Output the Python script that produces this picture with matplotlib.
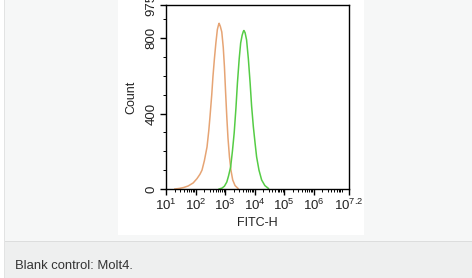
import numpy as np
import matplotlib.pyplot as plt
from matplotlib.patches import Rectangle
from matplotlib.ticker import LogLocator, FixedLocator, NullFormatter

plt.rcParams["font.family"] = ["Liberation Sans", "DejaVu Sans"]
plt.rcParams["mathtext.fontset"] = "custom"
plt.rcParams["mathtext.rm"] = "Liberation Sans"
plt.rcParams["mathtext.it"] = "Liberation Sans"

# blank control (orange) histogram, log10 FITC-H vs count
blank_log = [1.30, 1.45, 1.60, 1.75, 1.92, 2.05, 2.15, 2.22, 2.30, 2.39, 2.45, 2.49,
             2.55, 2.59, 2.64, 2.69, 2.74, 2.78, 2.80, 2.84, 2.89, 2.94, 2.98, 3.02,
             3.06, 3.10, 3.15, 3.20, 3.26, 3.34, 3.44]
blank_cnt = [0, 3, 8, 16, 32, 55, 78, 100, 150, 223, 310, 382,
             500, 594, 690, 774, 845, 870, 878, 862, 832, 750, 647, 510,
             382, 270, 170, 100, 48, 18, 3]

# Molt4 stained (green) histogram
molt4_log = [2.80, 2.90, 2.98, 3.06, 3.12, 3.19, 3.25, 3.31, 3.37, 3.42, 3.48, 3.53,
             3.58, 3.62, 3.64, 3.68, 3.73, 3.79, 3.85, 3.90, 3.96, 4.02, 4.07, 4.15,
             4.24, 4.35, 4.47]
molt4_cnt = [0, 5, 15, 37, 70, 117, 200, 297, 430, 562, 690, 774,
             815, 835, 840, 828, 790, 690, 562, 440, 329, 240, 170, 100,
             48, 18, 3]

xticks_pos = [1, 2, 3, 4, 5, 6, 7.2]
xtick_labels = ["$10^{1}$", "$10^{2}$", "$10^{3}$", "$10^{4}$", "$10^{5}$", "$10^{6}$", "$10^{7.2}$"]
yticks = [0, 400, 800, 975]

fig = plt.figure(figsize=(4.72, 2.78), dpi=100, facecolor="white")

# page background pieces
def page_rect(x, y, w, h, c):
    fig.patches.append(Rectangle((x / 472, 1 - (y + h) / 278), w / 472, h / 278,
                                 transform=fig.transFigure, facecolor=c,
                                 edgecolor="none", zorder=-5))

page_rect(4, 0, 468, 241, "#f6f7f7")
page_rect(4, 241, 468, 37, "#eeefef")
page_rect(4, 240.5, 468, 1, "#dcdddd")
page_rect(3.5, 0, 1, 278, "#e2e3e3")
page_rect(118, 0, 246, 235, "white")

ax = fig.add_axes([166 / 472, 1 - 189 / 278, 183 / 472, 184 / 278])
ax.set_zorder(5)
ax.set_facecolor("white")
ax.plot(10 ** np.array(blank_log), blank_cnt, color="#e6a474", lw=1.1)
ax.plot(10 ** np.array(molt4_log), molt4_cnt, color="#55cc45", lw=1.1)

ax.set_xscale("log")
ax.set_xlim(10 ** 1, 10 ** 7.2)
ax.set_ylim(0, 975)

ax.xaxis.set_major_locator(FixedLocator([10 ** p for p in xticks_pos]))
ax.set_xticklabels(xtick_labels)
ax.xaxis.set_minor_locator(LogLocator(base=10, subs=np.arange(2, 10), numticks=20))
ax.xaxis.set_minor_formatter(NullFormatter())

ax.set_yticks(yticks)
ax.set_yticklabels([str(v) for v in yticks], rotation=90, va="center")
ax.yaxis.set_minor_locator(FixedLocator([100, 200, 300, 500, 600, 700, 900]))

ax.tick_params(which="major", length=4, width=1, labelsize=9.5, pad=2, color="black",
               labelcolor="#222222")
ax.tick_params(which="minor", length=2, width=0.7, color="black")
for s in ax.spines.values():
    s.set_linewidth(1)

ax.set_xlabel("FITC-H", fontsize=9, labelpad=3, color="#222222")
ax.set_ylabel("Count", fontsize=9, labelpad=6, color="#222222")

fig.text(15 / 472, 1 - 266 / 278, "Blank control: Molt4.", fontsize=9.4, color="#333333", va="center")

fig.savefig("out.png", dpi=100, facecolor=fig.get_facecolor())
